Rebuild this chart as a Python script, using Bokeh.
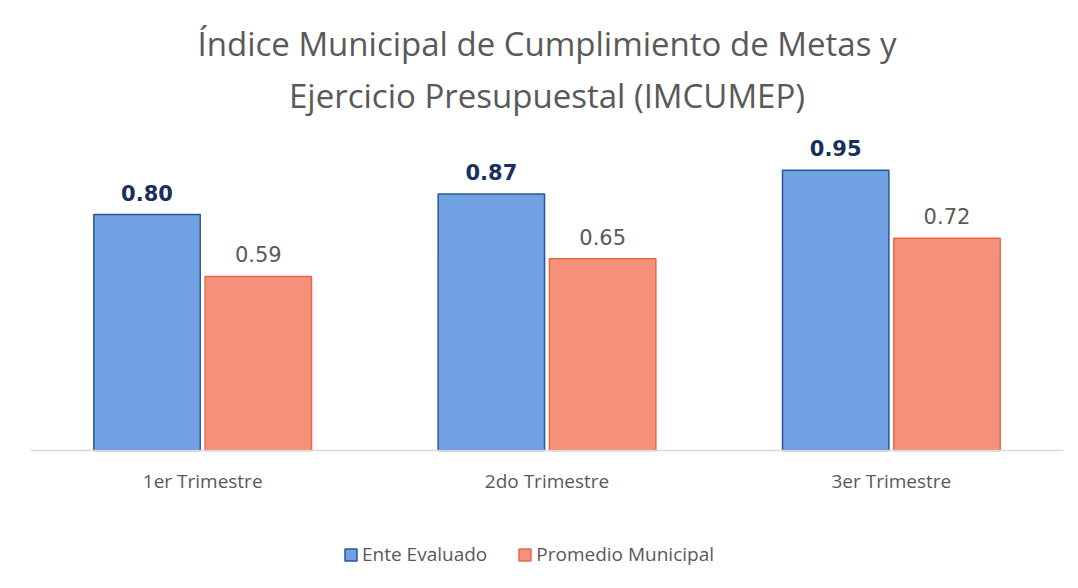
from bokeh.plotting import figure
from bokeh.models import ColumnDataSource, Legend, LegendItem, Title, Range1d, FactorRange, Span
from bokeh.transform import dodge
from bokeh.core.properties import value
from bokeh.embed import file_html
from bokeh.resources import INLINE

categories = ["1er Trimestre", "2do Trimestre", "3er Trimestre"]
ente_evaluado = [0.80, 0.87, 0.95]
promedio_municipal = [0.59, 0.65, 0.72]
ente_labels = ["0.80", "0.87", "0.95"]
prom_labels = ["0.59", "0.65", "0.72"]
series_names = ["Ente Evaluado", "Promedio Municipal"]
title_lines = ["Índice Municipal de Cumplimiento de Metas y", "Ejercicio Presupuestal (IMCUMEP)"]

source = ColumnDataSource(data=dict(
    cat=categories, ente=ente_evaluado, prom=promedio_municipal,
    ente_lbl=ente_labels, prom_lbl=prom_labels,
))

BLUE_FILL = "#6FA1E3"
BLUE_LINE = "#2A5599"
ORANGE_FILL = "#F5917B"
ORANGE_LINE = "#E5694A"
GRAY = "#595959"

p = figure(
    frame_width=1033, frame_height=458,
    x_range=FactorRange(*categories, range_padding=0),
    y_range=Range1d(-0.4407, 1.112),
    x_axis_location=None, y_axis_location=None,
    output_backend="svg", toolbar_location=None,
    min_border_left=30, min_border_right=7, min_border_bottom=0, min_border_top=122,
    outline_line_color=None, background_fill_color="white", border_fill_color="white",
)

# Titles (first added is closest to the frame)
t2 = Title(text=title_lines[1], align="center", text_font="Open Sans",
           text_font_size="33px", text_font_style="normal", text_color=GRAY, standoff=10)
t1 = Title(text=title_lines[0], align="center", text_font="Open Sans",
           text_font_size="33px", text_font_style="normal", text_color=GRAY, standoff=0)
p.add_layout(t2, "above")
p.add_layout(t1, "above")

W = 0.309
OFF = 0.1616
r1 = p.vbar(x=dodge("cat", -OFF, range=p.x_range), top="ente", width=W, source=source,
            fill_color=BLUE_FILL, line_color=BLUE_LINE, line_width=1.5)
r2 = p.vbar(x=dodge("cat", OFF, range=p.x_range), top="prom", width=W, source=source,
            fill_color=ORANGE_FILL, line_color=ORANGE_LINE, line_width=1.5)

# baseline (category axis line)
p.add_layout(Span(location=0, dimension="width", line_color="#D9D9D9", line_width=1.5))

# category labels under the baseline
p.text(x="cat", y=0, text="cat", source=source,
       text_align="center", text_baseline="middle", y_offset=30,
       text_font=value("Open Sans"), text_font_size="19px", text_color=GRAY)

p.text(x=dodge("cat", -OFF, range=p.x_range), y="ente", text="ente_lbl", source=source,
       text_align="center", text_baseline="bottom", y_offset=-14,
       text_font=value("DejaVu Sans"), text_font_size="21px", text_font_style="bold",
       text_color="#1B2F5E")
p.text(x=dodge("cat", OFF, range=p.x_range), y="prom", text="prom_lbl", source=source,
       text_align="center", text_baseline="bottom", y_offset=-14,
       text_font=value("DejaVu Sans"), text_font_size="21px", text_font_style="normal",
       text_color=GRAY)

p.xgrid.grid_line_color = None
p.ygrid.grid_line_color = None

legend = Legend(items=[LegendItem(label=series_names[0], renderers=[r1]),
                       LegendItem(label=series_names[1], renderers=[r2])],
                orientation="horizontal", location=(313, 13),
                label_text_font="Open Sans", label_text_font_size="19px",
                label_text_color=GRAY, glyph_width=15, glyph_height=15,
                spacing=30, label_standoff=4, border_line_color=None,
                background_fill_alpha=0, margin=0, padding=4)
p.add_layout(legend, "center")

open("out.html", "w").write(file_html(p, INLINE))
